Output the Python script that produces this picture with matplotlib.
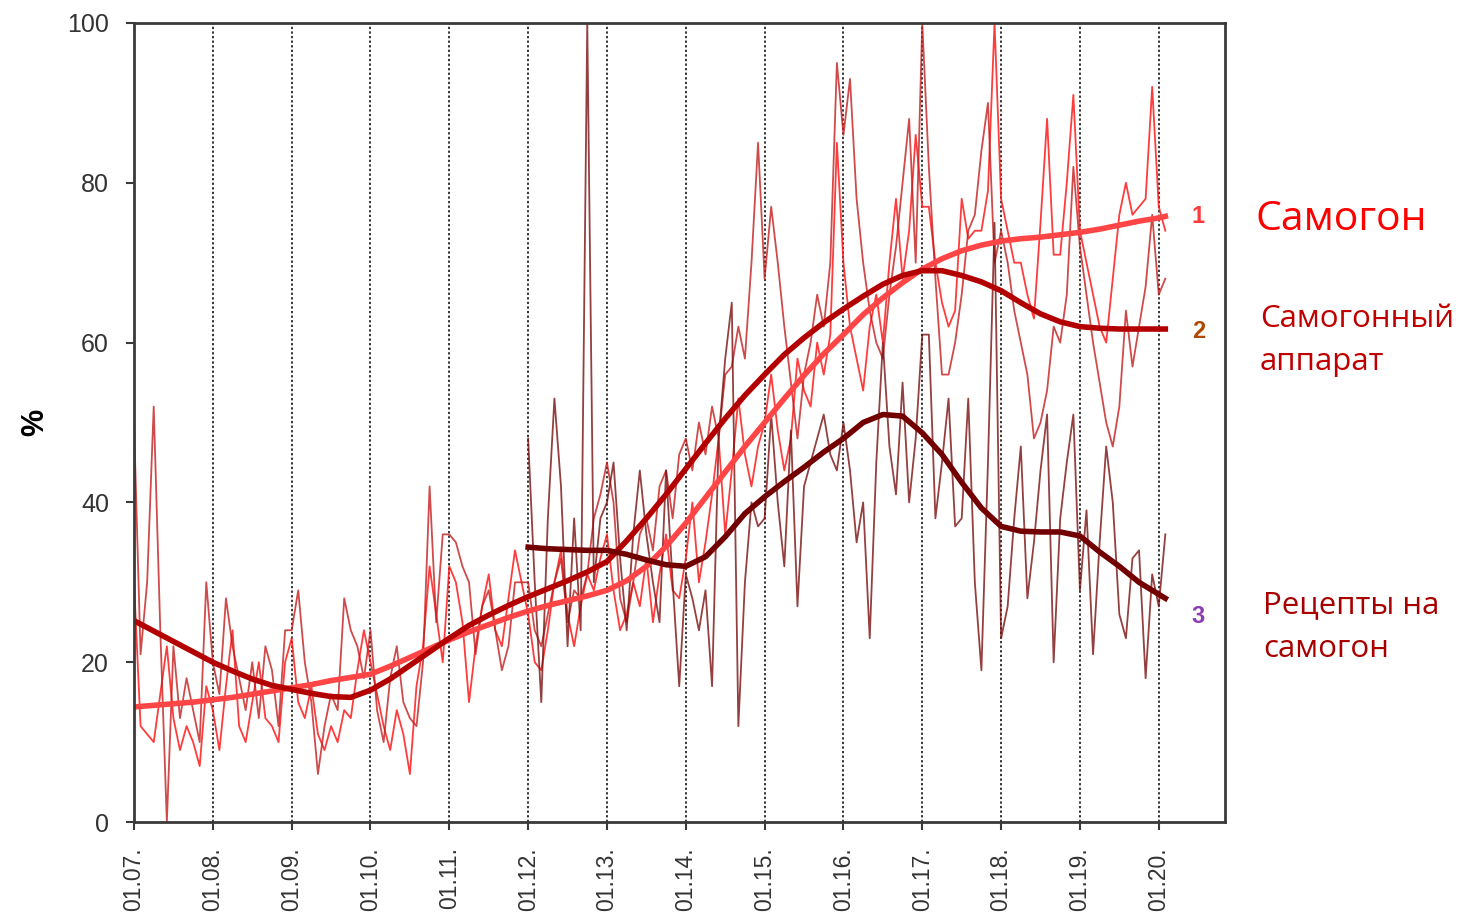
import numpy as np
import matplotlib
matplotlib.use("Agg")
import matplotlib.pyplot as plt

# monthly search interest, %, Jan 2007 .. Feb 2020
samogon = [
    30, 12, 11, 10, 16, 22, 13, 9, 12, 10, 7, 17,
    14, 9, 17, 24, 12, 10, 15, 20, 13, 12, 10, 20,
    23, 15, 13, 17, 11, 9, 12, 10, 14, 13, 19, 24,
    20, 16, 12, 9, 14, 11, 6, 17, 22, 32, 26, 20,
    32, 30, 25, 15, 22, 27, 31, 24, 22, 28, 34, 30,
    26, 20, 19, 24, 30, 34, 26, 22, 27, 31, 29, 33,
    36, 29, 24, 26, 30, 27, 33, 25, 31, 36, 29, 28,
    33, 40, 30, 35, 41, 48, 36, 44, 53, 46, 42, 47,
    50, 56, 49, 44, 48, 58, 54, 52, 60, 56, 61, 85,
    70, 62, 58, 54, 62, 66, 60, 70, 78, 68, 74, 86,
    77, 77, 70, 65, 62, 64, 78, 73, 74, 74, 79, 100,
    78, 74, 70, 70, 66, 63, 75, 88, 71, 71, 80, 91,
    74, 70, 66, 62, 60, 68, 76, 80, 76, 77, 78, 92,
    77, 74,
]
apparat = [
    50, 21, 30, 52, 24, 0, 22, 13, 18, 14, 10, 30,
    20, 16, 28, 22, 18, 14, 20, 13, 22, 19, 12, 24,
    24, 29, 20, 15, 6, 12, 16, 14, 28, 24, 22, 18,
    24, 14, 10, 18, 22, 15, 13, 12, 20, 42, 25, 36,
    36, 35, 32, 30, 21, 27, 29, 24, 19, 22, 30, 30,
    30, 24, 22, 26, 30, 33, 25, 29, 28, 31, 38, 41,
    45, 40, 28, 25, 30, 36, 38, 34, 42, 44, 38, 46,
    48, 44, 50, 46, 52, 48, 56, 57, 62, 58, 70, 85,
    68, 77, 70, 62, 55, 48, 56, 60, 66, 62, 70, 95,
    86, 93, 78, 70, 64, 60, 58, 66, 72, 80, 88, 70,
    100, 82, 68, 56, 56, 60, 66, 74, 76, 84, 90, 70,
    74, 70, 64, 60, 56, 48, 50, 54, 62, 60, 66, 82,
    72, 66, 60, 55, 50, 47, 52, 64, 57, 62, 67, 76,
    66, 68,
]
# recipes series starts Jan 2012
recepty = [
    48, 30, 15, 38, 53, 42, 22, 38, 24, 100, 30, 38,
    40, 45, 33, 24, 36, 44, 36, 30, 25, 44, 30, 17,
    31, 28, 24, 29, 17, 48, 58, 65, 12, 30, 40, 37,
    38, 51, 40, 32, 49, 27, 42, 45, 48, 51, 46, 44,
    50, 44, 35, 40, 23, 45, 60, 47, 41, 55, 40, 48,
    61, 61, 38, 45, 53, 37, 38, 53, 30, 19, 45, 75,
    23, 27, 38, 47, 28, 35, 44, 51, 20, 38, 45, 51,
    29, 39, 21, 35, 47, 40, 26, 23, 33, 34, 18, 31,
    27, 36,
]
recepty_start = 60  # months after Jan 2007

# smoothed trends, one value per quarter (+ last month)
trend_samogon = [
    14.4, 14.6, 14.8, 15.0, 15.3, 15.6, 16.0, 16.4, 16.8, 17.2, 17.7, 18.1,
    18.5, 19.5, 20.6, 21.7, 22.8, 23.8, 24.7, 25.6, 26.4, 27.1, 27.7, 28.3,
    29.0, 30.2, 32.0, 34.5, 37.4, 40.6, 43.8, 47.0, 50.0, 53.0, 55.9, 58.6,
    61.0, 63.5, 65.6, 67.5, 69.2, 70.5, 71.5, 72.2, 72.7, 73.0, 73.2, 73.5,
    73.8, 74.2, 74.7, 75.2, 75.6, 75.8,
]
trend_apparat = [
    25.2, 23.9, 22.6, 21.3, 20.0, 18.9, 17.9, 17.1, 16.6, 16.1, 15.7, 15.6,
    16.5, 17.9, 19.6, 21.3, 23.0, 24.6, 25.9, 27.1, 28.2, 29.2, 30.2, 31.3,
    32.6, 35.2, 38.0, 41.0, 44.2, 47.4, 50.5, 53.4, 56.0, 58.5, 60.6, 62.5,
    64.2, 65.8, 67.3, 68.4, 69.0, 69.0, 68.4, 67.6, 66.5, 65.0, 63.6, 62.6,
    62.0, 61.8, 61.7, 61.7, 61.7, 61.7,
]
trend_recepty = [
    34.4, 34.2, 34.1, 34.0, 34.0, 33.5, 32.8, 32.2, 32.0, 33.2, 35.7, 38.6,
    40.7, 42.6, 44.4, 46.3, 48.0, 50.0, 51.0, 50.8, 48.7, 46.0, 42.5, 39.3,
    37.0, 36.4, 36.3, 36.3, 35.8, 33.8, 32.0, 30.0, 28.5, 28.0,
]

years = list(range(2007, 2021))
year_labels = ["01.%02d." % (y % 100) for y in years]

n = len(samogon)
x_month = 2007 + np.arange(n) / 12
x_rec = 2007 + (recepty_start + np.arange(len(recepty))) / 12
x_tr = 2007 + np.r_[np.arange(0, n - 1, 3), n - 1] / 12
x_tr3 = 2007 + np.r_[np.arange(recepty_start, n - 1, 3), n - 1] / 12

fig = plt.figure(figsize=(14.63, 9.16), dpi=100)
ax = fig.add_axes([0.0916, 0.1026, 0.7457, 0.8723])

# raw monthly lines
ax.plot(x_month, samogon, color="#ff1a1a", lw=1.3, alpha=0.85)
ax.plot(x_month, apparat, color="#c41e1e", lw=1.3, alpha=0.8)
ax.plot(x_rec, recepty, color="#7a1010", lw=1.3, alpha=0.8)

# trends
ax.plot(x_tr, trend_samogon, color="#ff4545", lw=4, solid_joinstyle="round")
ax.plot(x_tr, trend_apparat, color="#b30000", lw=4, solid_joinstyle="round")
ax.plot(x_tr3, trend_recepty, color="#720000", lw=4, solid_joinstyle="round")

ax.set_xlim(2007, 2020.84)
ax.set_ylim(0, 100)
ax.set_yticks(range(0, 101, 20))
ax.set_xticks(years)
ax.set_xticklabels(year_labels, rotation=90, fontsize=16.5, color="#333333",
                   family="Liberation Sans")
for lbl in ax.get_yticklabels():
    lbl.set_fontsize(18)
    lbl.set_color("#333333")
    lbl.set_family("Liberation Sans")
ax.tick_params(direction="out", length=6, width=1.5, color="#3a3a3a")
ax.tick_params(axis="y", pad=12)
ax.tick_params(axis="x", pad=12)
ax.xaxis.grid(True, linestyle=(0, (1.5, 1.5)), color="black", lw=1.1)
for s in ax.spines.values():
    s.set_color("#3a3a3a")
    s.set_linewidth(2)

ax.set_ylabel("%", fontsize=22, fontweight="bold", family="Liberation Sans",
              labelpad=12)

# series numbers at the right end of the trends
ax.text(2020.42, trend_samogon[-1], "1", color="#ff3a3a", fontsize=17,
        fontweight="bold", va="center", family="Liberation Sans")
ax.text(2020.42, trend_apparat[-1] - 0.3, "2", color="#b04800", fontsize=17,
        fontweight="bold", va="center", family="Liberation Sans")
ax.text(2020.42, 25.7, "3", color="#8a3cb0", fontsize=17,
        fontweight="bold", va="center", family="Liberation Sans")

W, H = 1463, 916
fam = ["Open Sans", "DejaVu Sans"]
fig.text(1256 / W, 1 - 230 / H, "Самогон", color="#ff0000", fontsize=29.5,
         va="baseline", family=fam)
fig.text(1260 / W, 1 - 327 / H, "Самогонный", color="#c00000", fontsize=22.5,
         va="baseline", family=fam)
fig.text(1260 / W, 1 - 370 / H, "аппарат", color="#c00000", fontsize=22.5,
         va="baseline", family=fam)
fig.text(1263 / W, 1 - 613 / H, "Рецепты на", color="#a80000", fontsize=22.5,
         va="baseline", family=fam)
fig.text(1263 / W, 1 - 657 / H, "самогон", color="#a80000", fontsize=22.5,
         va="baseline", family=fam)

fig.savefig("out.png", dpi=100)
